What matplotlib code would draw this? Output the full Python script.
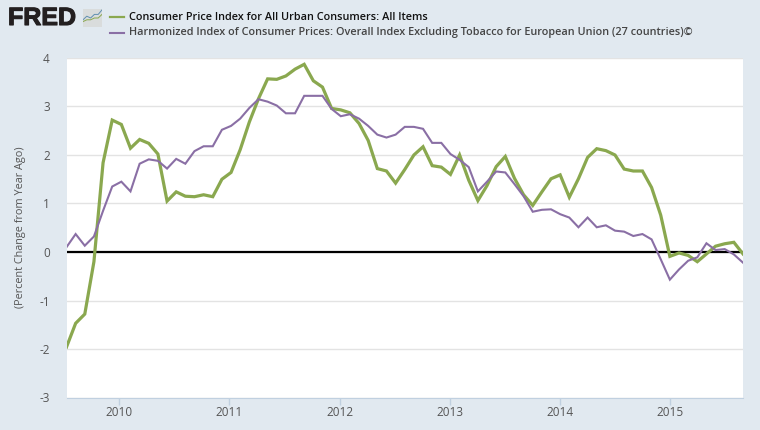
import matplotlib
matplotlib.use("Agg")
import matplotlib.pyplot as plt
import matplotlib.patheffects as pe
from matplotlib.lines import Line2D

# monthly values, Jul 2009 to Sep 2015
cpi_us = [-1.96, -1.47, -1.28, -0.2, 1.84, 2.72,
          2.63, 2.14, 2.32, 2.24, 2.02, 1.05, 1.24, 1.15, 1.14, 1.18, 1.14, 1.5,
          1.64, 2.11, 2.68, 3.16, 3.57, 3.56, 3.63, 3.77, 3.87, 3.53, 3.4, 2.96,
          2.93, 2.87, 2.65, 2.3, 1.72, 1.67, 1.42, 1.7, 2.0, 2.17, 1.78, 1.75,
          1.6, 2.0, 1.48, 1.06, 1.37, 1.76, 1.97, 1.52, 1.18, 0.96, 1.24, 1.51,
          1.59, 1.13, 1.51, 1.95, 2.13, 2.09, 2.0, 1.71, 1.67, 1.67, 1.33, 0.76,
          -0.09, -0.02, -0.07, -0.2, -0.04, 0.12, 0.17, 0.2, -0.04]
hicp_eu = [0.1, 0.37, 0.13, 0.32, 0.85, 1.35,
           1.45, 1.25, 1.82, 1.91, 1.88, 1.72, 1.92, 1.82, 2.08, 2.18, 2.18, 2.52,
           2.6, 2.75, 2.97, 3.15, 3.1, 3.02, 2.86, 2.86, 3.22, 3.22, 3.22, 2.95,
           2.8, 2.84, 2.75, 2.6, 2.42, 2.36, 2.42, 2.58, 2.58, 2.54, 2.25, 2.25,
           2.02, 1.9, 1.75, 1.25, 1.45, 1.66, 1.64, 1.4, 1.15, 0.83, 0.87, 0.88,
           0.78, 0.71, 0.51, 0.71, 0.51, 0.55, 0.44, 0.42, 0.33, 0.37, 0.26, -0.15,
           -0.57, -0.36, -0.18, -0.11, 0.18, 0.04, 0.06, -0.05, -0.22]
year_labels = ["2010", "2011", "2012", "2013", "2014", "2015"]
year_ticks = [5.74, 17.78, 29.87, 41.96, 54.0, 66.05]
y_ticks = [-3, -2, -1, 0, 1, 2, 3, 4]
name_us = "Consumer Price Index for All Urban Consumers: All Items"
name_eu = "Harmonized Index of Consumer Prices: Overall Index Excluding Tobacco for European Union (27 countries)©"

BG = "#e1e9f0"
GREEN = "#8aa84f"
PURPLE = "#8a6fa5"
TXT = "#555555"
W, H = 760, 430

plt.rcParams["font.family"] = ["Open Sans", "DejaVu Sans"]
plt.rcParams["axes.unicode_minus"] = False

fig = plt.figure(figsize=(W / 100, H / 100), dpi=100, facecolor=BG)
ax = fig.add_axes([66.5 / W, 1 - 397.5 / H, (743 - 66.5) / W, (397.5 - 58) / H])

x = list(range(len(cpi_us)))
ax.axhline(0, color="black", lw=1.6, zorder=2)
ax.plot(x, cpi_us, color=GREEN, lw=2.3, zorder=3, solid_joinstyle="miter")
ax.plot(x, hicp_eu, color=PURPLE, lw=1.5, zorder=4, solid_joinstyle="miter")

ax.set_xlim(0, 74)
ax.set_ylim(-3, 4)
ax.set_yticks(y_ticks)
ax.set_xticks(year_ticks)
ax.set_xticklabels(year_labels)
ax.grid(axis="y", color="#e3e3e3", lw=1)
ax.set_axisbelow(True)
for s in ["top", "left", "right"]:
    ax.spines[s].set_visible(False)
ax.spines["bottom"].set_color("#c0d0e0")
ax.tick_params(axis="y", length=0, labelsize=8.5, labelcolor=TXT, pad=12)
ax.tick_params(axis="x", length=5, width=1, color="#c0d0e0", labelsize=8.5, labelcolor=TXT, pad=1)
fig.text(21 / W, 1 - 227 / H, "(Percent Change from Year Ago)", rotation=90,
         ha="center", va="center", fontsize=7.8, color=TXT)

# logo
fred = fig.text(8 / W, 1 - 18 / H, "FRED", fontsize=18, fontweight="bold", color="#231f20",
                family=["Liberation Sans", "DejaVu Sans"], ha="left", va="center")
fred.set_path_effects([pe.withStroke(linewidth=0.8, foreground="#231f20")])
icon = fig.add_axes([83 / W, 1 - 27 / H, 19 / W, 18 / H], facecolor="#d9dcdc")
icon.plot([0, 2, 4, 6, 8, 10], [4, 6, 5, 7, 7, 9.5], color="#5f8fb0", lw=0.7)
icon.plot([0, 2, 4, 6, 8, 10], [3, 4, 4, 5, 5, 7], color=GREEN, lw=0.7)
icon.set_xlim(0, 10)
icon.set_ylim(0, 10)
icon.set_xticks([])
icon.set_yticks([])
for s in icon.spines.values():
    s.set_visible(False)

# legend
for ypx, col, lw, name, tcol in [(17, GREEN, 1.6, name_us, "#111111"), (33, PURPLE, 1.5, name_eu, "#444444")]:
    fig.add_artist(Line2D([110 / W, 124 / W], [1 - ypx / H, 1 - ypx / H], color=col, lw=lw))
    fig.text(129 / W, 1 - ypx / H, name, fontsize=7.87, fontweight="semibold", color=tcol,
             ha="left", va="center")

fig.savefig("out.png", dpi=100, facecolor=BG)
